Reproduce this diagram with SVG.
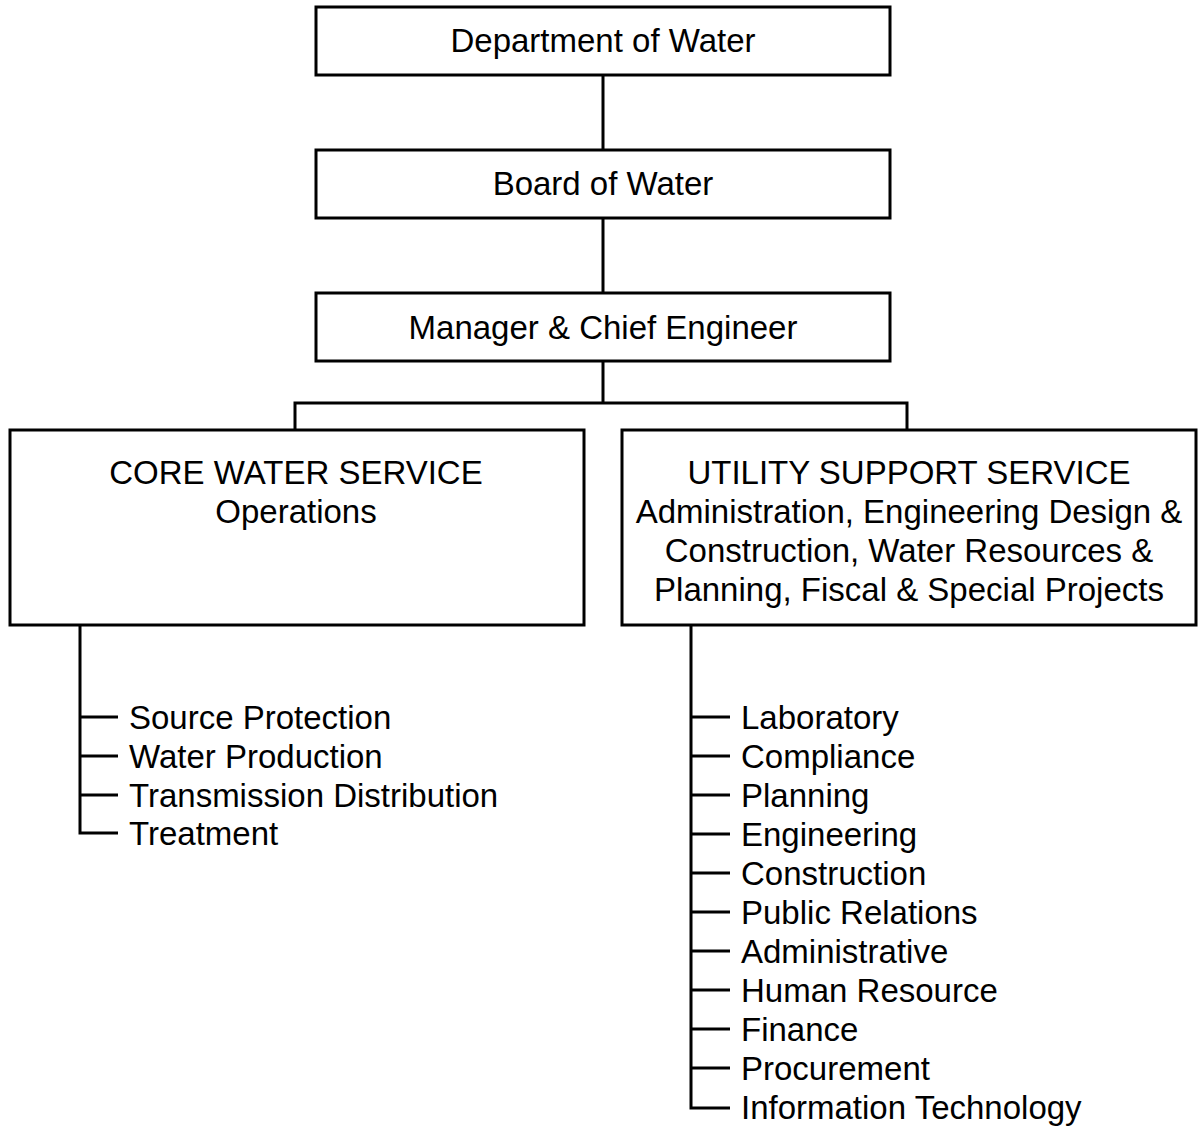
<svg xmlns="http://www.w3.org/2000/svg" width="1202" height="1127" viewBox="0 0 1202 1127">
<style>
.box{fill:#fff;stroke:#000;stroke-width:3}
.ln{fill:none;stroke:#000;stroke-width:3}
text{font-family:"Liberation Sans",Arial,sans-serif;font-size:33px;fill:#000}
.c{text-anchor:middle}
</style>
<rect width="1202" height="1127" fill="#fff"/>
<g id="connectors" class="ln">
<path d="M603 75V150M603 218V293M603 361V403M295 430V403H907V430"/>
<path d="M80 625V833H118M80 717H118M80 756H118M80 795H118"/>
<path d="M691 625V1108H730M691 717H730M691 756H730M691 795H730M691 834H730M691 873H730M691 912H730M691 951H730M691 990H730M691 1029H730M691 1068H730"/>
</g>
<g id="dept"><rect class="box" x="316" y="7" width="574" height="68"/><text class="c" x="603" y="52">Department of Water</text></g>
<g id="board"><rect class="box" x="316" y="150" width="574" height="68"/><text class="c" x="603" y="195">Board of Water</text></g>
<g id="manager"><rect class="box" x="316" y="293" width="574" height="68"/><text class="c" x="603" y="339">Manager &amp; Chief Engineer</text></g>
<g id="core"><rect class="box" x="10" y="430" width="574" height="195"/>
<text class="c" x="296" y="484">CORE WATER SERVICE</text>
<text class="c" x="296" y="523">Operations</text></g>
<g id="utility"><rect class="box" x="622" y="430" width="574" height="195"/>
<text class="c" x="909" y="484">UTILITY SUPPORT SERVICE</text>
<text class="c" x="909" y="523">Administration, Engineering Design &amp;</text>
<text class="c" x="909" y="562">Construction, Water Resources &amp;</text>
<text class="c" x="909" y="601">Planning, Fiscal &amp; Special Projects</text></g>
<g id="core-list">
<text x="129" y="729">Source Protection</text>
<text x="129" y="768">Water Production</text>
<text x="129" y="807">Transmission Distribution</text>
<text x="129" y="845">Treatment</text>
</g>
<g id="utility-list">
<text x="741" y="729">Laboratory</text>
<text x="741" y="768">Compliance</text>
<text x="741" y="807">Planning</text>
<text x="741" y="846">Engineering</text>
<text x="741" y="885">Construction</text>
<text x="741" y="924">Public Relations</text>
<text x="741" y="963">Administrative</text>
<text x="741" y="1002">Human Resource</text>
<text x="741" y="1041">Finance</text>
<text x="741" y="1080">Procurement</text>
<text x="741" y="1119">Information Technology</text>
</g>
</svg>
